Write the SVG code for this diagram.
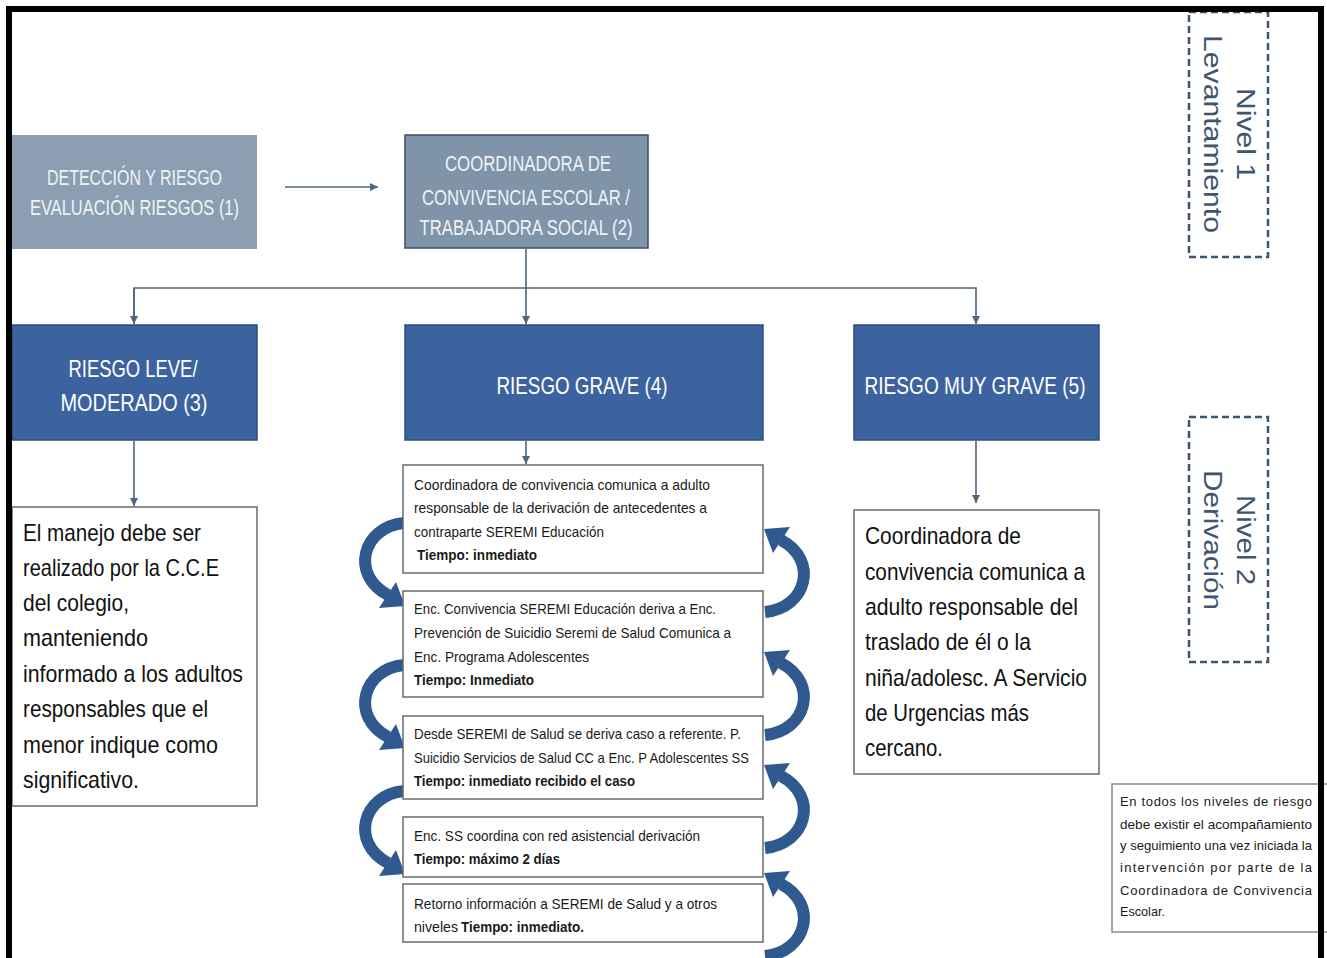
<svg xmlns="http://www.w3.org/2000/svg" xmlns:xlink="http://www.w3.org/1999/xlink" width="1327" height="958" viewBox="0 0 1327 958">
<style>
text{font-family:"Liberation Sans",Arial,sans-serif}
.hw{fill:#eef3f8;font-size:22px;text-anchor:middle}
.hb{fill:#ffffff;font-size:24px;text-anchor:middle}
.big{fill:#111;font-size:24px}
.sm{fill:#1a1a1a;font-size:15px}
.b{font-weight:bold}
.note{fill:#1a1a1a;font-size:13px}
.niv{fill:#3f5670;font-size:25px;text-anchor:middle}
.box{fill:#fff;stroke:#6a6a6a;stroke-width:1.5}
.dark{fill:#3c63a0;stroke:#2c4c7e;stroke-width:1.5}
.conn{fill:none;stroke:#4c6580;stroke-width:1.6}
.dash{fill:#fff;stroke:#3d5670;stroke-width:2.5;stroke-dasharray:7 4}
.curve{fill:none;stroke:#30598f;stroke-width:12}
.head{fill:#30598f}
</style>
<defs>
<marker id="ah" viewBox="0 0 10 10" refX="10" refY="5" markerWidth="8" markerHeight="8" markerUnits="userSpaceOnUse" orient="auto">
<path d="M0,0 L10,5 L0,10 z" fill="#4c6580"/>
</marker>
<g id="curveL">
<path class="curve" d="M 0,0 C -42,4 -54,52 -16,72"/>
<polygon class="head" points="1,83 -25,85 -8,59"/>
</g>
</defs>
<rect width="1327" height="958" fill="#fff"/>

<g id="nivel1">
<rect class="dash" x="1189" y="12" width="79" height="245"/>
<text class="niv" transform="translate(1237,134) rotate(90)" textLength="92" lengthAdjust="spacingAndGlyphs">Nivel 1</text>
<text class="niv" transform="translate(1204,134) rotate(90)" textLength="198" lengthAdjust="spacingAndGlyphs">Levantamiento</text>
</g>
<g id="nivel2">
<rect class="dash" x="1189" y="417" width="79" height="245"/>
<text class="niv" transform="translate(1237,540) rotate(90)" textLength="90" lengthAdjust="spacingAndGlyphs">Nivel 2</text>
<text class="niv" transform="translate(1204,540) rotate(90)" textLength="140" lengthAdjust="spacingAndGlyphs">Derivación</text>
</g>

<g id="connectors">
<line class="conn" x1="285" y1="187" x2="378" y2="187" marker-end="url(#ah)"/>
<line class="conn" x1="526" y1="249" x2="526" y2="324" marker-end="url(#ah)"/>
<polyline class="conn" points="134,324 134,288 976,288 976,324" marker-end="url(#ah)"/>
<path class="conn" d="M134,288 L134,324" marker-end="url(#ah)"/>
<line class="conn" x1="134" y1="441" x2="134" y2="506" marker-end="url(#ah)"/>
<line class="conn" x1="976" y1="441" x2="976" y2="503" marker-end="url(#ah)"/>
<line class="conn" x1="526" y1="441" x2="526" y2="464" marker-end="url(#ah)"/>
<use xlink:href="#curveL" href="#curveL" transform="translate(404,523)"/>
<use xlink:href="#curveL" href="#curveL" transform="translate(404,665)"/>
<use xlink:href="#curveL" href="#curveL" transform="translate(404,791)"/>
<use xlink:href="#curveL" href="#curveL" transform="translate(765,612) rotate(180)"/>
<use xlink:href="#curveL" href="#curveL" transform="translate(765,735) rotate(180)"/>
<use xlink:href="#curveL" href="#curveL" transform="translate(765,848) rotate(180)"/>
<use xlink:href="#curveL" href="#curveL" transform="translate(765,956) rotate(180)"/>
</g>

<g id="n1">
<rect x="12" y="135" width="245" height="114" fill="#8c9fb2"/>
<text class="hw" x="134.5" y="185" textLength="175" lengthAdjust="spacingAndGlyphs">DETECCIÓN Y RIESGO</text>
<text class="hw" x="134.5" y="215" textLength="209" lengthAdjust="spacingAndGlyphs">EVALUACIÓN RIESGOS (1)</text>
</g>
<g id="n2">
<rect x="405" y="135" width="243" height="113" fill="#7f94a9" stroke="#3b4f66" stroke-width="1.5"/>
<text class="hw" x="528" y="171" textLength="166" lengthAdjust="spacingAndGlyphs">COORDINADORA DE</text>
<text class="hw" x="526" y="205" textLength="208" lengthAdjust="spacingAndGlyphs">CONVIVENCIA ESCOLAR /</text>
<text class="hw" x="526" y="235" textLength="213" lengthAdjust="spacingAndGlyphs">TRABAJADORA SOCIAL (2)</text>
</g>
<g id="n3">
<rect class="dark" x="12" y="325" width="245" height="115"/>
<text class="hb" x="133" y="377" textLength="129" lengthAdjust="spacingAndGlyphs">RIESGO LEVE/</text>
<text class="hb" x="134" y="411" textLength="147" lengthAdjust="spacingAndGlyphs">MODERADO (3)</text>
</g>
<g id="n4">
<rect class="dark" x="405" y="325" width="358" height="115"/>
<text class="hb" x="582" y="394" textLength="171" lengthAdjust="spacingAndGlyphs">RIESGO GRAVE (4)</text>
</g>
<g id="n5">
<rect class="dark" x="854" y="325" width="245" height="115"/>
<text class="hb" x="975" y="394" textLength="221" lengthAdjust="spacingAndGlyphs">RIESGO MUY GRAVE (5)</text>
</g>

<g id="n3t">
<rect class="box" x="12" y="507" width="245" height="299"/>
<text class="big" x="23" y="541" textLength="178" lengthAdjust="spacingAndGlyphs">El manejo debe ser</text>
<text class="big" x="23" y="576" textLength="196" lengthAdjust="spacingAndGlyphs">realizado por la C.C.E</text>
<text class="big" x="23" y="611" textLength="106" lengthAdjust="spacingAndGlyphs">del colegio,</text>
<text class="big" x="23" y="646" textLength="125" lengthAdjust="spacingAndGlyphs">manteniendo</text>
<text class="big" x="23" y="682" textLength="220" lengthAdjust="spacingAndGlyphs">informado a los adultos</text>
<text class="big" x="23" y="717" textLength="185" lengthAdjust="spacingAndGlyphs">responsables que el</text>
<text class="big" x="23" y="753" textLength="195" lengthAdjust="spacingAndGlyphs">menor indique como</text>
<text class="big" x="23" y="788" textLength="116" lengthAdjust="spacingAndGlyphs">significativo.</text>
</g>
<g id="n5t">
<rect class="box" x="854" y="510" width="245" height="264"/>
<text class="big" x="865" y="544" textLength="156" lengthAdjust="spacingAndGlyphs">Coordinadora de</text>
<text class="big" x="865" y="580" textLength="220" lengthAdjust="spacingAndGlyphs">convivencia comunica a</text>
<text class="big" x="865" y="615" textLength="213" lengthAdjust="spacingAndGlyphs">adulto responsable del</text>
<text class="big" x="865" y="650" textLength="166" lengthAdjust="spacingAndGlyphs">traslado de él o la</text>
<text class="big" x="865" y="686" textLength="222" lengthAdjust="spacingAndGlyphs">niña/adolesc. A Servicio</text>
<text class="big" x="865" y="721" textLength="164" lengthAdjust="spacingAndGlyphs">de Urgencias más</text>
<text class="big" x="865" y="756" textLength="78" lengthAdjust="spacingAndGlyphs">cercano.</text>
</g>

<g id="s1">
<rect class="box" x="403" y="465" width="360" height="108"/>
<text class="sm" x="414" y="490" textLength="296" lengthAdjust="spacingAndGlyphs">Coordinadora de convivencia comunica a adulto</text>
<text class="sm" x="414" y="513" textLength="293" lengthAdjust="spacingAndGlyphs">responsable de la derivación de antecedentes a</text>
<text class="sm" x="414" y="537" textLength="190" lengthAdjust="spacingAndGlyphs">contraparte SEREMI Educación</text>
<text class="sm b" x="417" y="560" textLength="120" lengthAdjust="spacingAndGlyphs">Tiempo: inmediato</text>
</g>
<g id="s2">
<rect class="box" x="403" y="591" width="360" height="106"/>
<text class="sm" x="414" y="614" textLength="302" lengthAdjust="spacingAndGlyphs">Enc. Convivencia SEREMI Educación deriva a Enc.</text>
<text class="sm" x="414" y="638" textLength="317" lengthAdjust="spacingAndGlyphs">Prevención de Suicidio Seremi de Salud Comunica a</text>
<text class="sm" x="414" y="662" textLength="175" lengthAdjust="spacingAndGlyphs">Enc. Programa Adolescentes</text>
<text class="sm b" x="414" y="685" textLength="120" lengthAdjust="spacingAndGlyphs">Tiempo: Inmediato</text>
</g>
<g id="s3">
<rect class="box" x="403" y="716" width="360" height="83"/>
<text class="sm" x="414" y="739" textLength="327" lengthAdjust="spacingAndGlyphs">Desde SEREMI de Salud se deriva caso a referente. P.</text>
<text class="sm" x="414" y="763" textLength="335" lengthAdjust="spacingAndGlyphs">Suicidio Servicios de Salud CC a Enc. P Adolescentes SS</text>
<text class="sm b" x="414" y="786" textLength="221" lengthAdjust="spacingAndGlyphs">Tiempo: inmediato recibido el caso</text>
</g>
<g id="s4">
<rect class="box" x="403" y="817" width="360" height="60"/>
<text class="sm" x="414" y="841" textLength="286" lengthAdjust="spacingAndGlyphs">Enc. SS coordina con red asistencial derivación</text>
<text class="sm b" x="414" y="864" textLength="146" lengthAdjust="spacingAndGlyphs">Tiempo: máximo 2 días</text>
</g>
<g id="s5">
<rect class="box" x="403" y="884" width="360" height="58"/>
<text class="sm" x="414" y="909" textLength="303" lengthAdjust="spacingAndGlyphs">Retorno información a SEREMI de Salud y a otros</text>
<text class="sm" x="414" y="932" textLength="44" lengthAdjust="spacingAndGlyphs">niveles</text>
<text class="sm b" x="461" y="932" textLength="123" lengthAdjust="spacingAndGlyphs">Tiempo: inmediato.</text>
</g>

<g id="note">
<rect x="1112" y="784" width="220" height="148" fill="#fff" stroke="#8a8a8a" stroke-width="1.5"/>
<text class="note" x="1120" y="806" textLength="192" lengthAdjust="spacing">En todos los niveles de riesgo</text>
<text class="note" x="1120" y="829" textLength="192" lengthAdjust="spacingAndGlyphs">debe existir el acompañamiento</text>
<text class="note" x="1120" y="850" textLength="192" lengthAdjust="spacingAndGlyphs">y seguimiento una vez iniciada la</text>
<text class="note" x="1120" y="872" textLength="192" lengthAdjust="spacing">intervención por parte de la</text>
<text class="note" x="1120" y="895" textLength="192" lengthAdjust="spacing">Coordinadora de Convivencia</text>
<text class="note" x="1120" y="916" textLength="45" lengthAdjust="spacingAndGlyphs">Escolar.</text>
</g>

<rect x="9" y="9" width="1312" height="980" fill="none" stroke="#000" stroke-width="6"/>
</svg>
